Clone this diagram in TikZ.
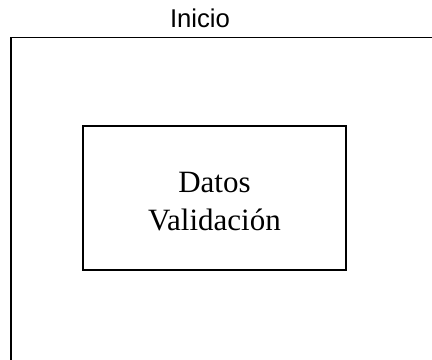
\documentclass[tikz,border=0pt]{standalone}
\usepackage{fontspec}
\setmainfont{Liberation Serif}
\newfontfamily\labelfont{Liberation Sans}
\tikzset{
  frame/.style={draw=black, line width=1.2bp},
  box/.style={draw=black, line width=1.2bp, minimum width=263bp, minimum height=144bp, inner sep=0pt},
  boxtext/.style={align=center, inner sep=0pt, font=\fontsize{31bp}{37.4bp}\selectfont},
  lbl/.style={font=\labelfont\fontsize{25.7bp}{30bp}\selectfont, inner sep=0pt}
}
\begin{document}
\begin{tikzpicture}[x=1bp,y=-1bp]
\useasboundingbox (0,0) rectangle (432,360);
\coordinate (fbl) at (11,360);
\coordinate (ftl) at (11,37.7);
\coordinate (ftr) at (432,37.7);
\draw[frame] (fbl) -- (ftl) -- (ftr);
\node[lbl, anchor=base] (inicio) at (200,27.3) {Inicio};
\node[box] (datos) at (214.5,198) {};
\node[boxtext] (datostxt) at ([yshift=-3.5bp]datos.center) {Datos\\Validación};
\end{tikzpicture}
\end{document}
